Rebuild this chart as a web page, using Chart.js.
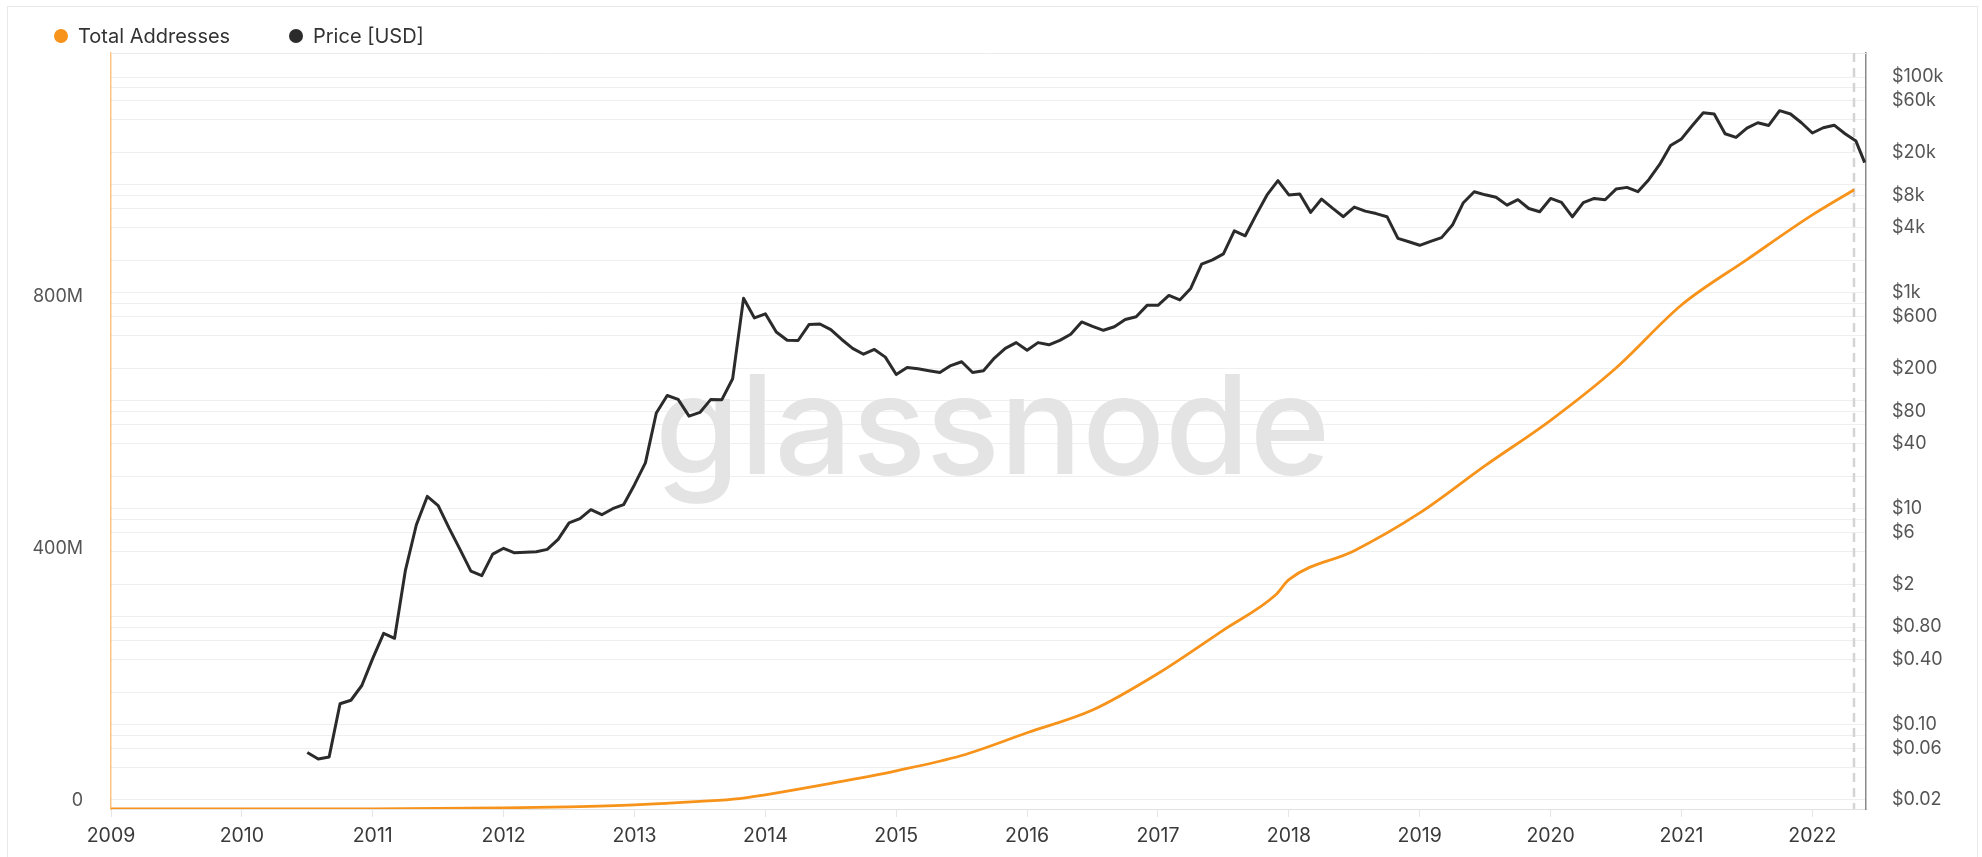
<!DOCTYPE html>
<html>
<head>
<meta charset="utf-8">
<title>Total Addresses vs Price [USD]</title>
<script src="https://cdn.jsdelivr.net/npm/chart.js@4.4.1/dist/chart.umd.min.js"></script>
<style>
  html, body { margin: 0; padding: 0; background: #fff; }
  body { width: 1982px; height: 857px; overflow: hidden; position: relative; font-family: Inter, "Noto Sans", sans-serif; }
  #frame { position: absolute; left: 7px; top: 6px; width: 1971px; height: 870px; border: 1px solid #e8e8e8; box-sizing: border-box; }
  #wrap { position: absolute; left: 0; top: 0; width: 1982px; height: 857px; }
  .item { position: absolute; top: 24px; height: 24px; display: flex; align-items: center; font-size: 20px; color: #333; white-space: nowrap; }
  .dot { width: 14px; height: 14px; border-radius: 50%; margin-right: 10px; }
</style>
</head>
<body>
<div id="frame"></div>
<div id="wrap"><canvas id="chart"></canvas></div>
<div id="legend"></div>
<script>
// x axis years
const yearTicks = [2009, 2010, 2011, 2012, 2013, 2014, 2015, 2016, 2017, 2018, 2019, 2020, 2021, 2022];

// Total addresses (millions)
const addrYears = [2009, 2010, 2011, 2011.5, 2012, 2012.5, 2013, 2013.5, 2013.8, 2014, 2014.5, 2015, 2015.5,
  2016, 2016.5, 2017, 2017.5, 2017.9, 2018, 2018.5, 2019, 2019.5, 2020, 2020.5, 2021, 2021.5, 2022, 2022.32];
const addrMillions = [0, 0.05, 0.3, 0.8, 1.8, 3.5, 6.5, 12, 16.5, 22.6, 40.7, 60.7, 84.9,
  121, 157, 215, 284, 340, 364, 410, 470, 545, 617, 700, 800, 872, 943, 983];
const addrTickValues = [0, 400, 800];
const addrTickLabels = ["0", "400M", "800M"];

// BTC price, monthly from Jul 2010, plus the last partial point
const priceStart = 2010.5;
const priceValues = [
  0.055, 0.048, 0.05, 0.156, 0.168, 0.23,
  0.41, 0.7, 0.63, 2.7, 7.1, 13, 10.7, 6.6, 4.2, 2.64, 2.4, 3.8,
  4.3, 3.9, 3.95, 4.0, 4.2, 5.2, 7.4, 8.1, 9.8, 8.8, 10, 10.9,
  16.7, 26.6, 77, 112, 103, 72, 78, 103, 102, 160, 890, 586,
  640, 434, 364, 362, 508, 515, 456, 370, 306, 270, 299, 254,
  175, 203, 198, 190, 183, 212, 230, 183, 190, 249, 306, 346,
  294, 346, 330, 363, 414, 538, 490, 450, 485, 566, 600, 766,
  766, 946, 860, 1100, 1850, 2020, 2300, 3750, 3380, 5280, 8080, 10960,
  8080, 8250, 5570, 7400, 6100, 5080, 6240, 5720, 5430, 5080, 3200, 2980,
  2760, 3000, 3250, 4250, 6850, 8660, 8100, 7680, 6500, 7300, 6050, 5650,
  7500, 6900, 5070, 6850, 7500, 7300, 9160, 9500, 8660, 11200, 15500, 23200,
  26700, 35600, 46700, 45400, 29800, 27600, 33600, 37700, 35600, 48800, 45400, 37700,
  30300, 33900, 35800, 29800, 25500
];
const lastPriceYear = 2022.4;
const lastPrice = 16100;

// right axis: grid at 1,2,4,6,8 per decade, every other one labelled
const priceGridValues = [0.02, 0.04, 0.06, 0.08, 0.1, 0.2, 0.4, 0.6, 0.8, 1, 2, 4, 6, 8, 10, 20, 40, 60, 80,
  100, 200, 400, 600, 800, 1000, 2000, 4000, 6000, 8000, 10000, 20000, 40000, 60000, 80000, 100000];
const priceTickValues = [0.02, 0.06, 0.1, 0.4, 0.8, 2, 6, 10, 40, 80, 200, 600, 1000, 4000, 8000, 20000, 60000, 100000];
const priceTickLabels = ["$0.02", "$0.06", "$0.10", "$0.40", "$0.80", "$2", "$6", "$10", "$40", "$80",
  "$200", "$600", "$1k", "$4k", "$8k", "$20k", "$60k", "$100k"];

const priceSeries = priceValues.map((v, i) => ({ x: priceStart + i / 12, y: v }));
priceSeries.push({ x: lastPriceYear, y: lastPrice });

function labelFor(values, labels, v) {
  const i = values.findIndex((t) => Math.abs(t - v) / Math.max(Math.abs(t), 1e-9) < 1e-6 || t === v);
  return i >= 0 ? labels[i] : "";
}

const watermark = {
  id: "watermark",
  beforeDatasetsDraw(chart) {
    const { ctx, chartArea, scales } = chart;
    ctx.save();
    ctx.font = "500 137px Inter";
    ctx.fillStyle = "#e4e4e4";
    ctx.textBaseline = "alphabetic";
    ctx.fillText("glassnode", 655, 474);
    // top border of the plot
    ctx.strokeStyle = "#ececec";
    ctx.lineWidth = 1;
    ctx.beginPath();
    ctx.moveTo(chartArea.left, chartArea.top + 0.5);
    ctx.lineTo(chartArea.right, chartArea.top + 0.5);
    ctx.stroke();
    // dashed marker at the last address value
    const x = Math.round(scales.x.getPixelForValue(addrYears[addrYears.length - 1]));
    ctx.strokeStyle = "#d4d4d4";
    ctx.lineWidth = 2.5;
    ctx.setLineDash([9, 6]);
    ctx.beginPath();
    ctx.moveTo(x, chartArea.top);
    ctx.lineTo(x, chartArea.bottom);
    ctx.stroke();
    ctx.restore();
  },
};

const htmlLegend = {
  id: "htmlLegend",
  afterUpdate(chart) {
    const box = document.getElementById("legend");
    box.innerHTML = "";
    const lefts = [54, 289];
    chart.data.datasets.forEach((ds, i) => {
      const item = document.createElement("div");
      item.className = "item";
      item.style.left = lefts[i] + "px";
      const dot = document.createElement("span");
      dot.className = "dot";
      dot.style.background = ds.borderColor;
      item.appendChild(dot);
      item.appendChild(document.createTextNode(ds.label));
      box.appendChild(item);
    });
  },
};

const tickFont = { family: "Inter", size: 18 };

new Chart(document.getElementById("chart"), {
  type: "line",
  data: {
    datasets: [
      {
        label: "Total Addresses",
        data: addrYears.map((x, i) => ({ x, y: addrMillions[i] })),
        yAxisID: "yAddr",
        borderColor: "#f7931a",
        borderWidth: 2.8,
        pointRadius: 0,
        cubicInterpolationMode: "monotone",
      },
      {
        label: "Price [USD]",
        data: priceSeries,
        yAxisID: "yPrice",
        borderColor: "#2b2b2b",
        borderWidth: 3,
        borderJoinStyle: "round",
        pointRadius: 0,
        tension: 0,
      },
    ],
  },
  options: {
    responsive: true,
    maintainAspectRatio: false,
    animation: false,
    layout: { padding: { top: 53, left: 0, right: 0, bottom: 0 } },
    plugins: {
      legend: { display: false },
      tooltip: { enabled: false },
    },
    scales: {
      x: {
        type: "linear",
        min: 2009,
        max: 2022.41,
        afterBuildTicks: (s) => { s.ticks = yearTicks.map((v) => ({ value: v })); },
        afterFit: (s) => { s.height = 48; },
        ticks: { autoSkip: false, maxRotation: 0, color: "#3a3a3a", font: { family: "Inter", size: 19.5 }, padding: 7, callback: (v) => String(v) },
        grid: { drawOnChartArea: false, drawTicks: true, tickLength: 8, color: "#e6e6e6" },
        border: { color: "#e2e2e2" },
      },
      yAddr: {
        type: "linear",
        position: "left",
        min: 0,
        max: 1200,
        afterBuildTicks: (s) => { s.ticks = addrTickValues.map((v) => ({ value: v })); },
        afterFit: (s) => { s.width = 111; },
        ticks: {
          autoSkip: false, color: "#555", font: tickFont, padding: 28, labelOffset: -8,
          callback: (v) => labelFor(addrTickValues, addrTickLabels, v),
        },
        grid: { drawOnChartArea: false, drawTicks: false },
        border: { color: "rgba(247,147,26,0.55)", width: 1.5 },
      },
      yPrice: {
        type: "logarithmic",
        position: "right",
        min: 0.0165,
        max: 167000,
        afterBuildTicks: (s) => { s.ticks = priceGridValues.map((v) => ({ value: v })); },
        afterFit: (s) => { s.width = 116; },
        ticks: {
          autoSkip: false, color: "#555", font: tickFont, padding: 26,
          callback: (v) => labelFor(priceTickValues, priceTickLabels, v),
        },
        grid: { drawTicks: false, color: "#efefef", lineWidth: 1 },
        border: { color: "#8a8a8a", width: 1.5 },
      },
    },
  },
  plugins: [watermark, htmlLegend],
});
</script>
</body>
</html>
